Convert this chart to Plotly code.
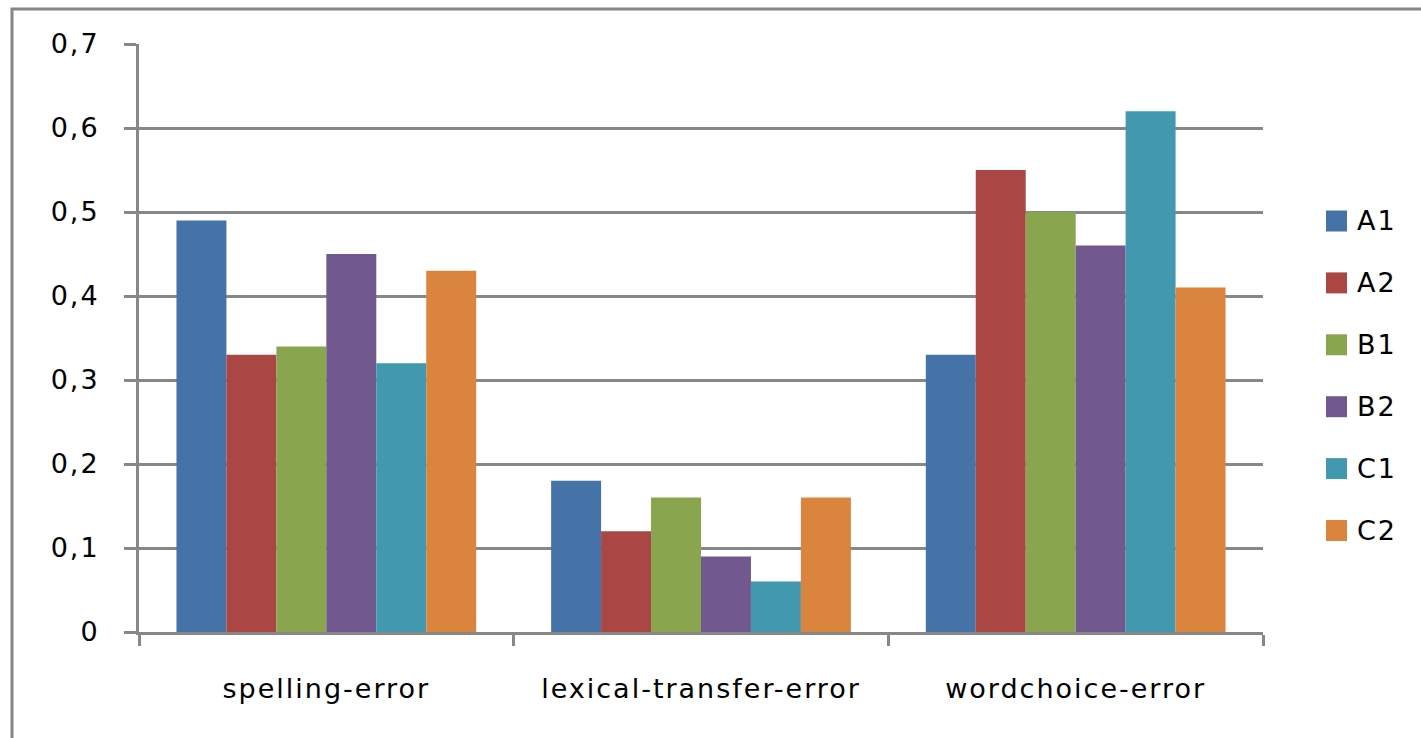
import plotly.graph_objects as go

# Error categories and proficiency levels
categories = ["spelling-error", "lexical-transfer-error", "wordchoice-error"]
levels = ["A1", "A2", "B1", "B2", "C1", "C2"]

# Proportion of each error type per proficiency level
A1 = [0.49, 0.18, 0.33]
A2 = [0.33, 0.12, 0.55]
B1 = [0.34, 0.16, 0.50]
B2 = [0.45, 0.09, 0.46]
C1 = [0.32, 0.06, 0.62]
C2 = [0.43, 0.16, 0.41]
series = [A1, A2, B1, B2, C1, C2]

colors = ["#4572A7", "#AA4643", "#89A54E", "#71588F", "#4198AF", "#DB843D"]

y_tickvals = [0, 0.1, 0.2, 0.3, 0.4, 0.5, 0.6, 0.7]
y_ticktext = ["0", "0,1", "0,2", "0,3", "0,4", "0,5", "0,6", "0,7"]

FONT = "DejaVu Sans"
SIZE = 27
GRID = "#878787"


def spaced(text):
    return f'<span style="letter-spacing:2px">{text}</span>'


# Plot-area geometry (pixels) used to place the key in paper coordinates
W, H = 1421, 738
L, R, T, B = 139, 158, 44, 106
PW, PH = W - L - R, H - T - B


def px_x(x):
    return (x - L) / PW


def px_y(y):
    return (H - B - y) / PH


fig = go.Figure()
for name, vals, col in zip(levels, series, colors):
    fig.add_trace(go.Bar(
        x=categories, y=vals, name=name,
        marker=dict(color=col, line=dict(width=0)),
        showlegend=False,
    ))

# Outer frame, then the key: colour squares with series names on the right
shapes = [dict(
    type="rect", xref="paper", yref="paper",
    x0=px_x(12), x1=1.4, y0=-0.4, y1=px_y(9),
    line=dict(color="#868686", width=3), fillcolor="rgba(0,0,0,0)",
    layer="below",
)]
annotations = []
for i, (name, col) in enumerate(zip(levels, colors)):
    cy = 221 + i * 61.9
    shapes.append(dict(
        type="rect", xref="paper", yref="paper",
        x0=px_x(1326), x1=px_x(1347), y0=px_y(cy + 10.5), y1=px_y(cy - 10.5),
        line=dict(width=0), fillcolor=col,
    ))
    annotations.append(dict(
        xref="paper", yref="paper", x=px_x(1355), y=px_y(cy),
        xanchor="left", yanchor="middle", showarrow=False,
        text=spaced(name), font=dict(family=FONT, size=SIZE, color="black"),
    ))

fig.update_layout(
    width=W, height=H,
    margin=dict(l=L, r=R, t=T, b=B),
    paper_bgcolor="white", plot_bgcolor="white",
    barmode="group", bargap=0.2, bargroupgap=0,
    font=dict(family=FONT, size=SIZE, color="black"),
    showlegend=False,
    xaxis=dict(
        type="category",
        tickvals=categories, ticktext=[spaced(c) for c in categories],
        showline=True, linecolor=GRID, linewidth=3,
        ticks="outside", tickson="boundaries", ticklen=11,
        tickcolor=GRID, tickwidth=3,
        showgrid=False, ticklabelstandoff=31,
        tickfont=dict(family=FONT, size=SIZE, color="black"),
    ),
    yaxis=dict(
        range=[0, 0.7],
        tickvals=y_tickvals, ticktext=[spaced(t) for t in y_ticktext],
        showline=True, linecolor=GRID, linewidth=3,
        ticks="outside", ticklen=12, tickcolor=GRID, tickwidth=3,
        showgrid=True, gridcolor=GRID, gridwidth=3,
        zeroline=False, ticklabelstandoff=19,
        tickfont=dict(family=FONT, size=SIZE, color="black"),
    ),
    shapes=shapes,
    annotations=annotations,
)

fig.write_html("out.html")
